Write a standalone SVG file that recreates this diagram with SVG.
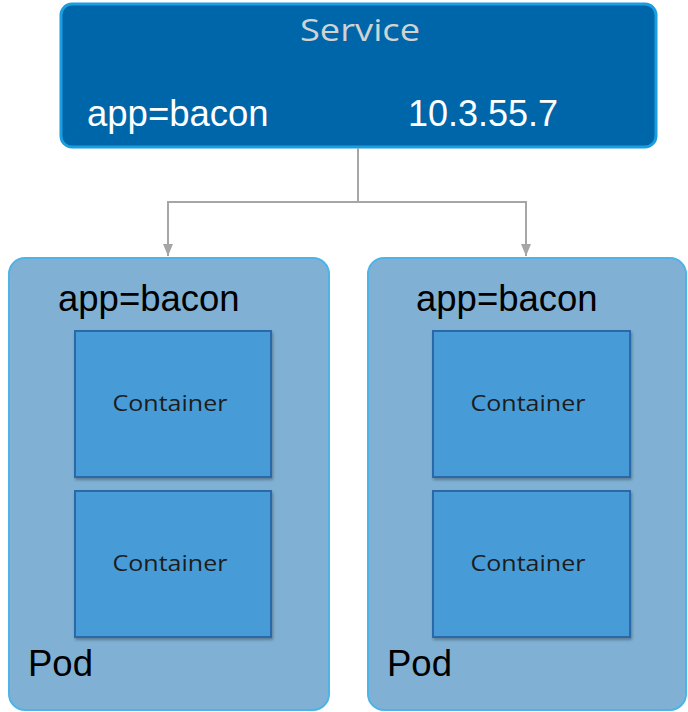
<svg xmlns="http://www.w3.org/2000/svg" width="688" height="712" viewBox="0 0 688 712">
  <defs>
    <marker id="arrow" viewBox="0 0 12 10" refX="12" refY="5" markerWidth="12" markerHeight="10" markerUnits="userSpaceOnUse" orient="auto">
      <path d="M0,0 L12,5 L0,10 Z" fill="#a6a6a6"/>
    </marker>
    <filter id="shadow" x="-10%" y="-10%" width="125%" height="125%">
      <feDropShadow dx="1" dy="2" stdDeviation="1.5" flood-color="#000" flood-opacity="0.3"/>
    </filter>
    <style>
      .service { fill: #0066aa; stroke: #1a9ee0; stroke-width: 3; }
      .pod { fill: #80b1d4; stroke: #4eb3e6; stroke-width: 2; }
      .container { fill: #479cd8; stroke: #2c68a8; stroke-width: 2; filter: url(#shadow); }
      .wire { fill: none; stroke: #a6a6a6; stroke-width: 2; }
      .sans { font-family: "Liberation Sans", Arial, sans-serif; }
      .label { font-size: 36.5px; fill: #000; }
      .ctext { font-family: "Open Sans", "Lato", sans-serif; font-size: 22px; fill: #1c1c1c; text-anchor: middle; }
    </style>
  </defs>

  <!-- Service -->
  <g id="service">
    <rect class="service" x="61" y="4" width="595" height="143" rx="11"/>
    <text x="360" y="41" font-family="'Open Sans', sans-serif" font-size="31" fill="#d2d2d2" text-anchor="middle" textLength="120" lengthAdjust="spacingAndGlyphs">Service</text>
    <text class="sans" x="87" y="126" font-size="36.5" fill="#ffffff">app=bacon</text>
    <text class="sans" x="408" y="126" font-size="36" fill="#ffffff">10.3.55.7</text>
  </g>

  <!-- Connectors -->
  <g id="connectors">
    <path class="wire" d="M358,148 V202 H168 V256" marker-end="url(#arrow)"/>
    <path class="wire" d="M358,202 H526 V256" marker-end="url(#arrow)"/>
  </g>

  <!-- Left pod -->
  <g id="pod-left">
    <rect class="pod" x="9" y="258" width="320" height="452" rx="16"/>
    <text class="sans label" x="58" y="311">app=bacon</text>
    <g id="pod-left-container-1">
      <rect class="container" x="75" y="331" width="196" height="146"/>
      <text class="ctext" x="170" y="411" textLength="115" lengthAdjust="spacingAndGlyphs">Container</text>
    </g>
    <g id="pod-left-container-2">
      <rect class="container" x="75" y="491" width="196" height="146"/>
      <text class="ctext" x="170" y="571" textLength="115" lengthAdjust="spacingAndGlyphs">Container</text>
    </g>
    <text class="sans label" x="28" y="676">Pod</text>
  </g>

  <!-- Right pod -->
  <g id="pod-right">
    <rect class="pod" x="368" y="258" width="318" height="452" rx="16"/>
    <text class="sans label" x="416" y="311">app=bacon</text>
    <g id="pod-right-container-1">
      <rect class="container" x="433" y="331" width="197" height="146"/>
      <text class="ctext" x="528" y="411" textLength="115" lengthAdjust="spacingAndGlyphs">Container</text>
    </g>
    <g id="pod-right-container-2">
      <rect class="container" x="433" y="491" width="197" height="146"/>
      <text class="ctext" x="528" y="571" textLength="115" lengthAdjust="spacingAndGlyphs">Container</text>
    </g>
    <text class="sans label" x="387" y="676">Pod</text>
  </g>
</svg>
